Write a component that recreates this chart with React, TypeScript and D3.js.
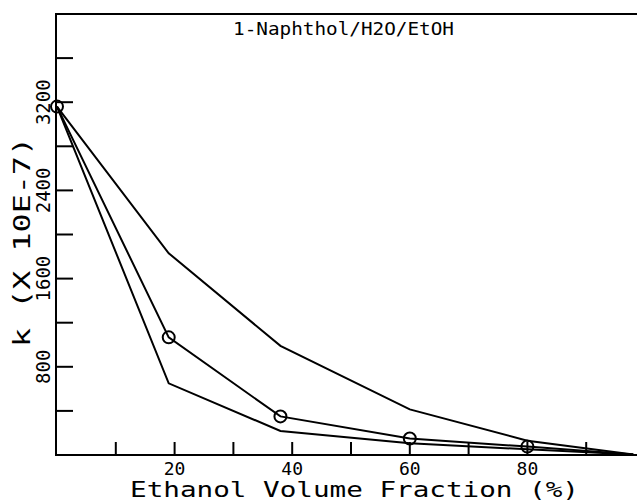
import React, { useEffect, useRef } from "react";
import * as d3 from "d3";

// Ethanol volume fraction (%) of each measured point
const ethanolPct = [0, 19, 38, 60, 80, 98];

// k (x 10E-7) for the three curves
const kUpper = [3160, 1830, 990, 414, 130, 5];
const kMiddle = [3160, 1067, 350, 150, 76, 5];
const kLower = [3160, 650, 218, 106, 52, 5];

// Axis ticks
const xLabelTicks = [20, 40, 60, 80];
const xAllTicks = [10, 20, 30, 40, 50, 60, 70, 80, 90];
const yAllTicks = [400, 800, 1200, 1600, 2000, 2400, 2800, 3200, 3600];
const yLabelTicks = [800, 1600, 2400, 3200];

const chartTitle = "1-Naphthol/H2O/EtOH";
const xTitle = "Ethanol Volume Fraction (%)";
const yTitle = "k  (X 10E-7)";

const W = 637;
const H = 502;
const FONT = "'DejaVu Sans Mono', monospace";

const App: React.FC = () => {
  const ref = useRef<SVGSVGElement>(null);

  useEffect(() => {
    if (!ref.current) return;
    const svg = d3.select(ref.current);
    svg.selectAll("*").remove();

    const left = 56;
    const top = 14;
    const bottom = 455;

    const x = d3.scaleLinear().domain([0, 100]).range([57, 645]);
    const y = d3.scaleLinear().domain([0, 4000]).range([bottom, top]);

    svg.append("rect").attr("width", W).attr("height", H).attr("fill", "white");

    // frame: left axis, top line, bottom axis
    svg
      .append("path")
      .attr("d", `M${W},${top}H${left}V${bottom}H${W}`)
      .attr("fill", "none")
      .attr("stroke", "black")
      .attr("stroke-width", 2);

    // x ticks (pointing up, inside)
    svg
      .selectAll(".xt")
      .data(xAllTicks)
      .enter()
      .append("line")
      .attr("x1", (d) => x(d))
      .attr("x2", (d) => x(d))
      .attr("y1", bottom)
      .attr("y2", bottom - 13)
      .attr("stroke", "black")
      .attr("stroke-width", 2);

    svg
      .selectAll(".xl")
      .data(xLabelTicks)
      .enter()
      .append("text")
      .attr("x", (d) => x(d))
      .attr("y", 475)
      .attr("text-anchor", "middle")
      .style("font-family", FONT)
      .style("font-size", "18px")
      .text((d) => String(d));

    // y ticks (pointing right, inside)
    svg
      .selectAll(".yt")
      .data(yAllTicks)
      .enter()
      .append("line")
      .attr("x1", left)
      .attr("x2", left + 17)
      .attr("y1", (d) => y(d))
      .attr("y2", (d) => y(d))
      .attr("stroke", "black")
      .attr("stroke-width", 2);

    svg
      .selectAll(".yl")
      .data(yLabelTicks)
      .enter()
      .append("text")
      .attr("transform", (d) => `translate(50,${y(d)}) rotate(-90)`)
      .attr("text-anchor", "middle")
      .style("font-family", FONT)
      .style("font-size", "19px")
      .text((d) => String(d));

    // curves
    const line = d3
      .line<number>()
      .x((_, i) => x(ethanolPct[i]))
      .y((d) => y(d));

    [kUpper, kMiddle, kLower].forEach((series) => {
      svg
        .append("path")
        .datum(series)
        .attr("d", line)
        .attr("fill", "none")
        .attr("stroke", "black")
        .attr("stroke-width", 2);
    });

    // markers on the middle curve
    svg
      .selectAll(".mk")
      .data(kMiddle.slice(0, 5))
      .enter()
      .append("circle")
      .attr("cx", (_, i) => x(ethanolPct[i]))
      .attr("cy", (d) => y(d))
      .attr("r", 6)
      .attr("fill", "none")
      .attr("stroke", "black")
      .attr("stroke-width", 2);

    // titles
    svg
      .append("text")
      .attr("x", 233)
      .attr("y", 35)
      .attr("textLength", 221)
      .attr("lengthAdjust", "spacingAndGlyphs")
      .style("font-family", FONT)
      .style("font-size", "17px")
      .text(chartTitle);

    svg
      .append("text")
      .attr("x", 130)
      .attr("y", 497)
      .attr("textLength", 449)
      .attr("lengthAdjust", "spacingAndGlyphs")
      .style("font-family", FONT)
      .style("font-size", "22px")
      .text(xTitle);

    svg
      .append("text")
      .attr("transform", "translate(30,347) rotate(-90)")
      .attr("textLength", 210)
      .attr("lengthAdjust", "spacingAndGlyphs")
      .style("font-family", FONT)
      .style("font-size", "23px")
      .text(yTitle);
  }, []);

  return (
    <svg
      ref={ref}
      width={W}
      height={H}
      style={{ position: "absolute", left: 0, top: 0 }}
    />
  );
};

export default App;
